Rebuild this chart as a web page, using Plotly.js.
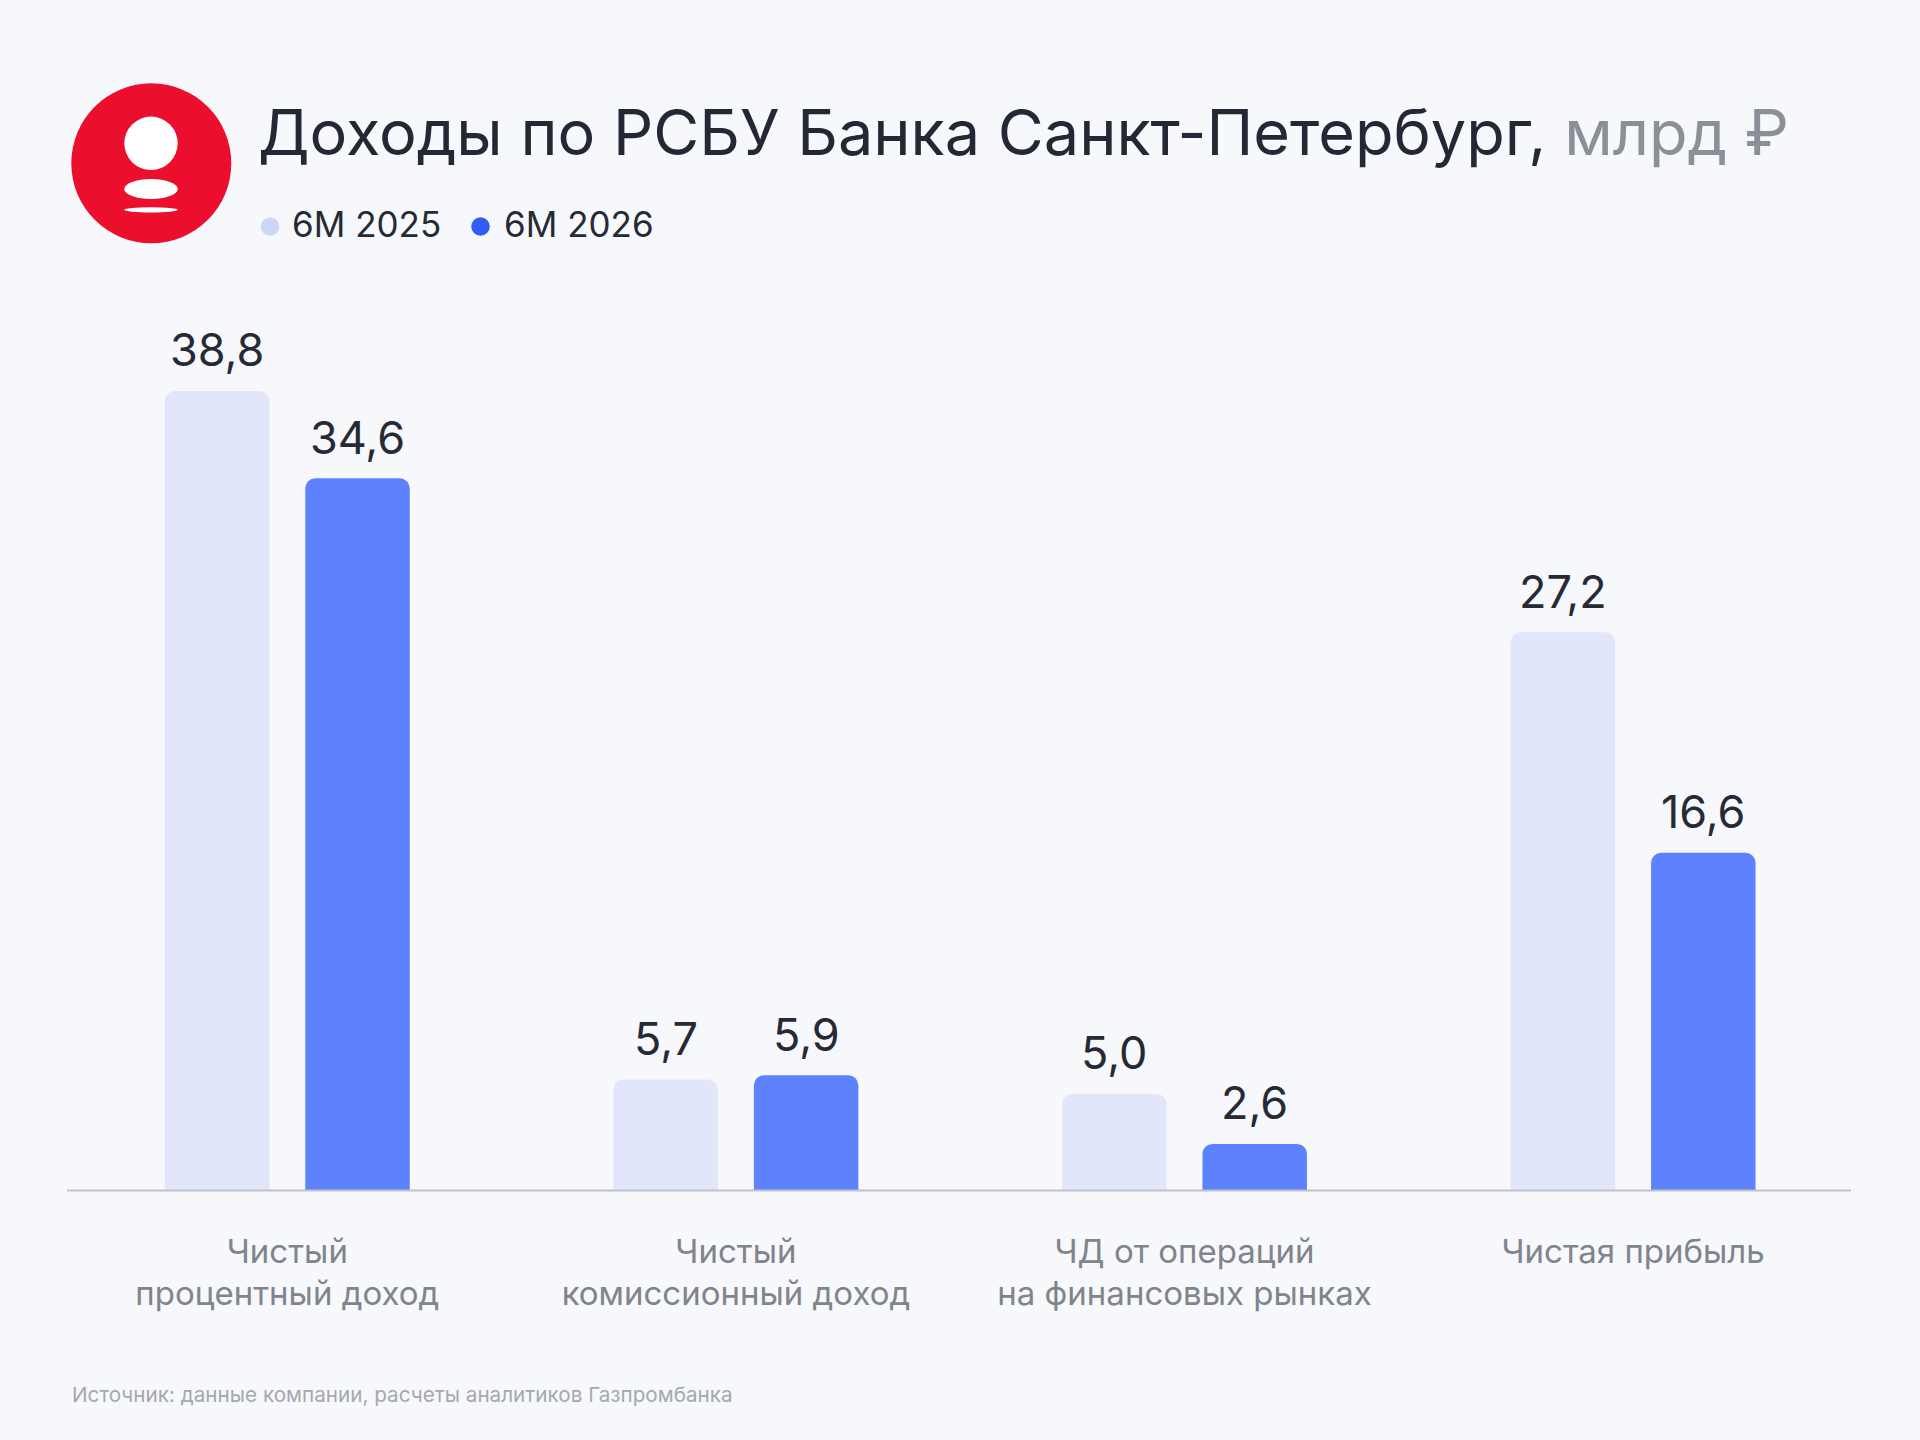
<!DOCTYPE html>
<html>
<head>
<meta charset="utf-8">
<script src="https://cdn.plot.ly/plotly-3.0.1.min.js"></script>
<style>
  html, body { margin: 0; padding: 0; background: #F6F8FB; }
  #chart { width: 1920px; height: 1440px; }
</style>
</head>
<body>
<div id="chart"></div>
<script>
// ---- data ----
const categories = [
  'Чистый<br>процентный доход',
  'Чистый<br>комиссионный доход',
  'ЧД от операций<br>на финансовых рынках',
  'Чистая прибыль'
];
const seriesNames = ['6M 2025', '6M 2026'];
const values2025 = [38.8, 5.7, 5.0, 27.2];
const values2026 = [34.6, 5.9, 2.6, 16.6];
const titleMain = 'Доходы по РСБУ Банка Санкт-Петербург,';
const titleUnit = 'млрд ₽';
const sourceText = 'Источник: данные компании, расчеты аналитиков Газпромбанка';

// ---- style ----
const W = 1920, H = 1440;
const FONT = 'Inter, "Noto Sans", sans-serif';
const BG = '#F6F8FB';
const barColors = ['#E2E6FB', '#5E82FE'];
const dotColors = ['#CDD6F6', '#2F5EF6'];
const px = x => x / W;
const py = y => 1 - y / H;

const xDomain = [px(63), px(1857.4)];
const yDomain = [py(1190.5), py(300)];
const bargap = 0.374, bargroupgap = 0.256;
const pxPerUnit = 20.8;
const yStart = 0.36;
const yRange = [yStart, yStart + (1190.5 - 300) / pxPerUnit];

const fmt = v => v.toFixed(1).replace('.', ',');

const traces = [values2025, values2026].map((vals, i) => ({
  type: 'bar',
  name: seriesNames[i],
  x: categories,
  y: vals,
  marker: { color: barColors[i], cornerradius: 10 },
  hoverinfo: 'skip',
  showlegend: false
}));

// value labels
const plotWpx = W * (xDomain[1] - xDomain[0]);
const catPx = plotWpx / categories.length;
const halfSlot = catPx * (1 - bargap) / 4;
const annotations = [];
[values2025, values2026].forEach((vals, i) => {
  vals.forEach((v, j) => {
    annotations.push({
      xref: 'x', yref: 'y', x: categories[j], y: v,
      xshift: (i === 0 ? -1 : 1) * halfSlot,
      yshift: 41, yanchor: 'middle', xanchor: 'center',
      text: fmt(v), showarrow: false,
      font: { family: FONT, size: 45, color: '#262A35' }
    });
  });
});

// legend (custom)
const legendX = [[270, 290], [480.5, 502]];
seriesNames.forEach((n, i) => {
  annotations.push({
    xref: 'paper', yref: 'paper', x: px(legendX[i][1]), y: py(224.5),
    xanchor: 'left', yanchor: 'middle', text: n, showarrow: false,
    font: { family: FONT, size: 35, color: '#262A35' }
  });
});

// source
annotations.push({
  xref: 'paper', yref: 'paper', x: px(70), y: py(1394),
  xanchor: 'left', yanchor: 'middle', text: sourceText, showarrow: false,
  font: { family: FONT, size: 20.7, color: '#A4A8AF' }
});

const shapes = [];
// axis baseline
shapes.push({
  type: 'line', xref: 'paper', yref: 'paper', layer: 'above',
  x0: px(67), x1: px(1851), y0: yDomain[0], y1: yDomain[0],
  line: { color: '#BFC2C8', width: 2 }
});
// legend dots
seriesNames.forEach((n, i) => {
  const cx = legendX[i][0], cy = 226.5, r = 9.3;
  shapes.push({
    type: 'circle', xref: 'paper', yref: 'paper',
    x0: px(cx - r), x1: px(cx + r), y0: py(cy + r), y1: py(cy - r),
    fillcolor: dotColors[i], line: { width: 0 }
  });
});
// logo
const ell = (cx, cy, rx, ry, color) => ({
  type: 'circle', xref: 'paper', yref: 'paper',
  x0: px(cx - rx), x1: px(cx + rx), y0: py(cy + ry), y1: py(cy - ry),
  fillcolor: color, line: { width: 0 }
});
shapes.push(ell(151.3, 163.3, 80, 80, '#EB0F2D'));
shapes.push(ell(151, 143.3, 26.7, 26.7, '#FFFFFF'));
shapes.push(ell(151, 189, 26.8, 10, '#FFFFFF'));
shapes.push(ell(151, 209.8, 26.8, 2.6, '#FFFFFF'));

const layout = {
  width: W, height: H,
  margin: { l: 0, r: 0, t: 0, b: 0 },
  paper_bgcolor: BG, plot_bgcolor: BG,
  barmode: 'group', bargap: bargap, bargroupgap: bargroupgap,
  title: {
    text: titleMain + ' <span style="color:#8B8F97">' + titleUnit + '</span>',
    xref: 'paper', yref: 'paper', x: px(258), xanchor: 'left',
    y: py(133), yanchor: 'middle',
    font: { family: FONT, size: 63, color: '#242834' }
  },
  xaxis: {
    domain: xDomain, range: [-0.5, 3.5], fixedrange: true,
    showgrid: false, zeroline: false, showline: false, ticks: '',
    tickfont: { family: FONT, size: 33, color: '#80848C' },
    ticklabelstandoff: 38
  },
  yaxis: {
    domain: yDomain, range: yRange, visible: false, fixedrange: true
  },
  annotations: annotations,
  shapes: shapes,
  showlegend: false,
  font: { family: FONT }
};

Plotly.newPlot('chart', traces, layout, { displayModeBar: false, staticPlot: true });
</script>
</body>
</html>
